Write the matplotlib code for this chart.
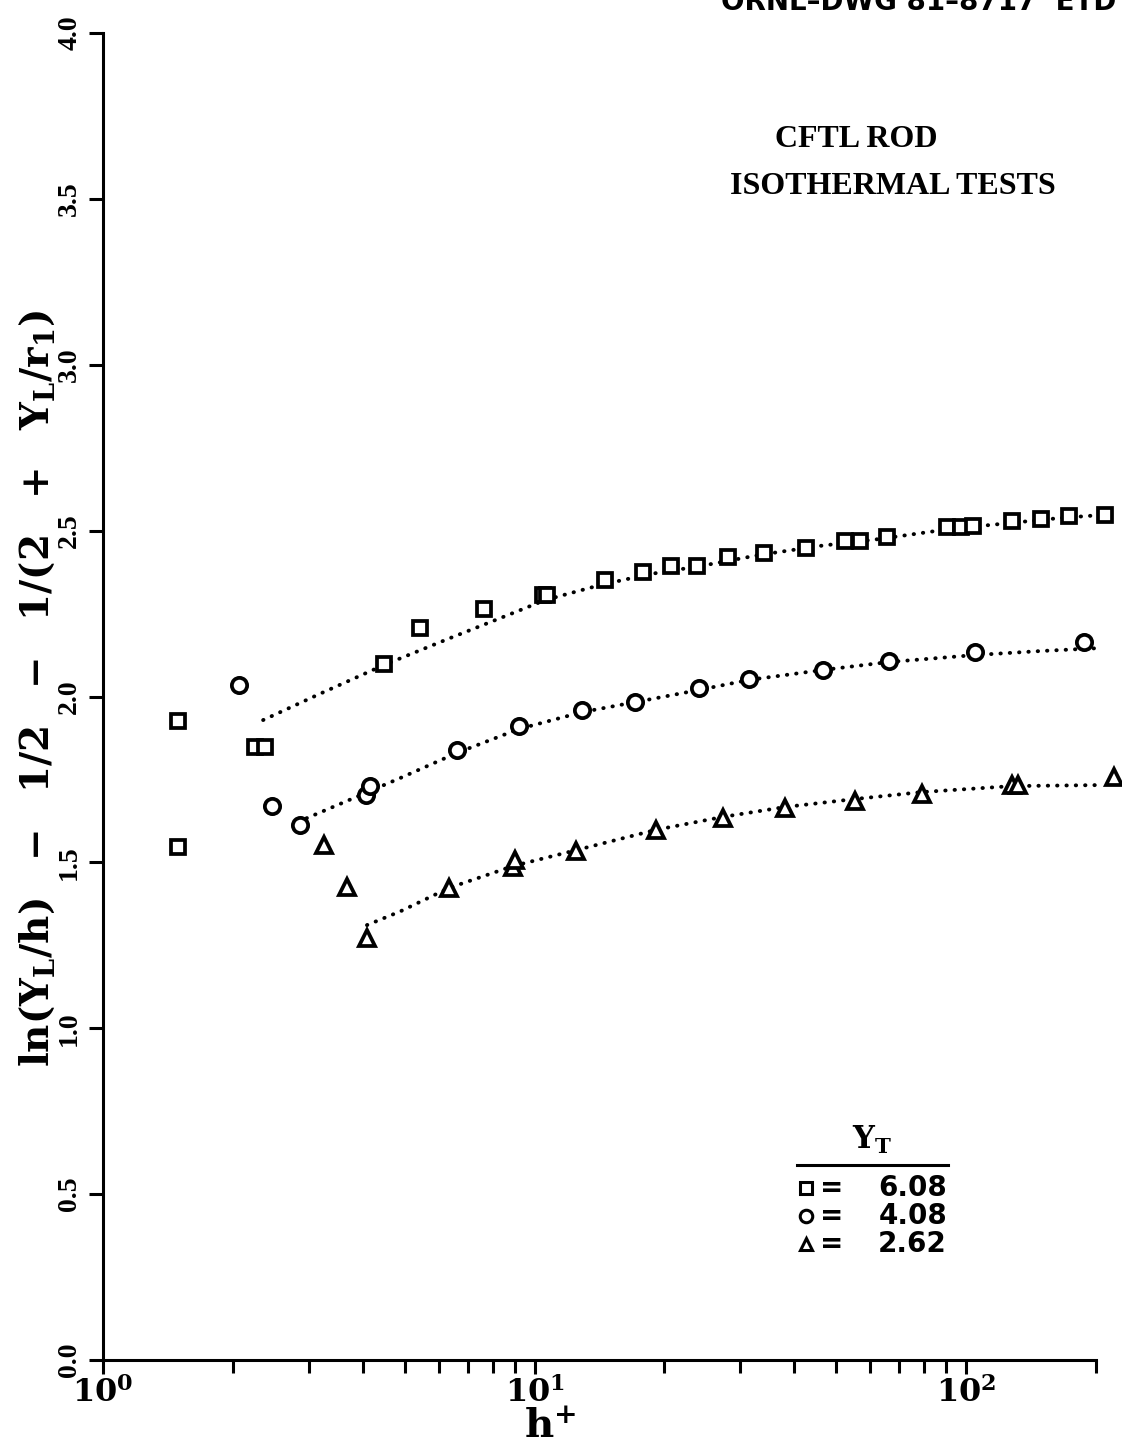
import matplotlib
matplotlib.use("Agg")
import matplotlib.pyplot as plt
from matplotlib.ticker import FixedLocator, NullFormatter

plt.rcParams['font.family'] = ['Liberation Serif', 'DejaVu Serif']
plt.rcParams['font.weight'] = 'bold'
plt.rcParams['mathtext.fontset'] = 'custom'
plt.rcParams['mathtext.rm'] = 'DejaVu Serif:bold'
plt.rcParams['mathtext.it'] = 'DejaVu Serif:bold'
plt.rcParams['mathtext.bf'] = 'DejaVu Serif:bold'

# -------------------------------
# Data: Y_T = 6.08 (squares)
# -------------------------------
hp_sq = [1.49, 1.49, 2.25, 2.37, 4.48, 5.43, 7.64, 10.46, 10.69, 14.6, 17.8,
         20.7, 23.8, 28.1, 34.0, 42.6, 52.4, 56.8, 65.6, 90.4, 97.3, 103.8,
         127.9, 149.3, 173.3, 210.0]
val_sq = [1.926, 1.546, 1.848, 1.848, 2.098, 2.207, 2.264, 2.306, 2.306, 2.351,
          2.375, 2.393, 2.393, 2.420, 2.432, 2.448, 2.469, 2.469, 2.481, 2.511,
          2.511, 2.514, 2.529, 2.535, 2.544, 2.547]
fit_sq_x = [2.35, 3.18, 4.48, 6.37, 8.32, 10.6, 14.2, 18.5, 24.2, 33.3, 45.9,
            63.2, 91.8, 120.0, 165.0, 221.0]
fit_sq_y = [1.929, 2.008, 2.095, 2.176, 2.236, 2.291, 2.336, 2.369, 2.393,
            2.427, 2.454, 2.475, 2.505, 2.520, 2.538, 2.550]

# Y_T = 4.08 (circles)
hp_ci = [2.07, 2.46, 2.86, 4.07, 4.16, 6.61, 9.2, 12.9, 17.1, 24.1, 31.4,
         46.6, 66.3, 105.0, 187.7]
val_ci = [2.035, 1.670, 1.613, 1.703, 1.730, 1.839, 1.911, 1.959, 1.983, 2.026,
          2.053, 2.080, 2.107, 2.134, 2.164]
fit_ci_x = [2.83, 3.54, 4.88, 6.61, 9.2, 12.9, 17.6, 24.1, 31.4, 46.6, 66.3,
            105.0, 148.5, 204.5]
fit_ci_y = [1.622, 1.676, 1.754, 1.830, 1.902, 1.953, 1.986, 2.020, 2.050,
            2.080, 2.104, 2.125, 2.137, 2.146]

# Y_T = 2.62 (triangles)
hp_tr = [3.25, 3.68, 4.09, 6.34, 8.92, 9.02, 12.5, 19.1, 27.3, 38.1, 55.3,
         79.1, 127.9, 132.0, 220.0]
val_tr = [1.552, 1.426, 1.272, 1.423, 1.486, 1.507, 1.534, 1.598, 1.634, 1.664,
          1.685, 1.706, 1.733, 1.733, 1.757]
fit_tr_x = [4.09, 4.88, 6.34, 8.92, 12.5, 19.1, 27.3, 38.1, 55.3, 79.1, 127.9,
            204.0]
fit_tr_y = [1.311, 1.352, 1.423, 1.489, 1.537, 1.598, 1.637, 1.667, 1.691,
            1.712, 1.730, 1.733]

yt_values = ['6.08', '4.08', '2.62']
y_ticks = [0.0, 0.5, 1.0, 1.5, 2.0, 2.5, 3.0, 3.5, 4.0]

# -------------------------------
# Plot
# -------------------------------
fig = plt.figure(figsize=(11.22, 14.5), dpi=100)
ax = fig.add_axes([103 / 1122, 1 - 1360 / 1450, 993 / 1122, 1327 / 1450])

dot = dict(color='black', lw=2.8, linestyle=(0, (0.1, 2.3)),
           dash_capstyle='round', clip_on=False, zorder=2)
ax.plot(fit_sq_x, fit_sq_y, **dot)
ax.plot(fit_ci_x, fit_ci_y, **dot)
ax.plot(fit_tr_x, fit_tr_y, **dot)

mk = dict(linestyle='none', mfc='white', mec='black', mew=2.7,
          clip_on=False, zorder=3)
ax.plot(hp_sq, val_sq, marker='s', ms=10.5, **mk)
ax.plot(hp_ci, val_ci, marker='o', ms=11, **mk)
ax.plot(hp_tr, val_tr, marker='^', ms=11, **mk)

ax.set_xscale('log')
ax.set_xlim(1, 200)
ax.set_ylim(0, 4.0)

for s in ['top', 'right']:
    ax.spines[s].set_visible(False)
for s in ['left', 'bottom']:
    ax.spines[s].set_linewidth(2.2)

ax.set_yticks(y_ticks)
ax.set_yticklabels(['%.1f' % v for v in y_ticks], rotation=90, va='center',
                   fontsize=20)
ax.set_xticks([1, 10, 100])
ax.set_xticklabels([r'$\mathbf{10^{0}}$', r'$\mathbf{10^{1}}$',
                    r'$\mathbf{10^{2}}$'], fontsize=23)
ax.xaxis.set_minor_locator(FixedLocator(
    [m * 10 ** d for d in range(0, 3) for m in range(2, 10) if m * 10 ** d <= 200]))
ax.xaxis.set_minor_formatter(NullFormatter())
ax.tick_params(axis='both', which='major', direction='out', length=10,
               width=2.2, pad=5)
ax.tick_params(axis='x', which='major', pad=2)
ax.tick_params(axis='x', which='minor', direction='out', length=9, width=2.2)
ax.tick_params(axis='y', which='minor', left=False)

fig.text(550 / 1122, 1 - 1428 / 1450, r'$\mathbf{h^{+}}$', ha='center',
         va='center', fontsize=29)
fig.text(38 / 1122, 1 - 688 / 1450,
         r'$\mathrm{ln(Y_L/h)\ \ -\ \ 1/2\ \ -\ \ 1/(2\ \ +\ \ Y_L/r_1)}$',
         rotation=90, ha='center', va='center', fontsize=28)

# annotation
ax.text(0.759, 0.920, 'CFTL ROD', transform=ax.transAxes, ha='center',
        va='center', fontsize=23, fontweight='bold')
ax.text(0.795, 0.884, 'ISOTHERMAL TESTS', transform=ax.transAxes, ha='center',
        va='center', fontsize=23, fontweight='bold')

# key for Y_T
def axf(px, py):
    return (px - 103) / 993, (1360 - py) / 1327

x0, y0 = axf(872, 1140)
ax.text(x0, y0, r'$\mathbf{Y_T}$', transform=ax.transAxes, ha='center',
        va='center', fontsize=22)
xa, yl = axf(797, 1165)
xb, _ = axf(948, 1165)
ax.plot([xa, xb], [yl, yl], transform=ax.transAxes, color='black', lw=2.2,
        clip_on=False)
for i, (m, v) in enumerate(zip(['s', 'o', '^'], yt_values)):
    xm, yr = axf(806, 1188 + 28 * i)
    ax.plot([xm], [yr], marker=m, ms=9, mfc='white', mec='black', mew=2.2,
            transform=ax.transAxes, clip_on=False)
    xe, _ = axf(832, 0)
    ax.text(xe, yr, '=', transform=ax.transAxes, ha='center', va='center',
            fontsize=20, family='DejaVu Sans', fontweight='bold')
    xn, _ = axf(947, 0)
    ax.text(xn, yr, v, transform=ax.transAxes, ha='right', va='center',
            fontsize=20, family='DejaVu Sans', fontweight='bold')

fig.text(0.995, 1 - 16 / 1450, 'ORNL\u2013DWG 81\u20138717  ETD', ha='right',
         va='bottom', fontsize=20, family='DejaVu Sans', fontweight='bold')

fig.savefig('out.png', dpi=100, facecolor='white')
